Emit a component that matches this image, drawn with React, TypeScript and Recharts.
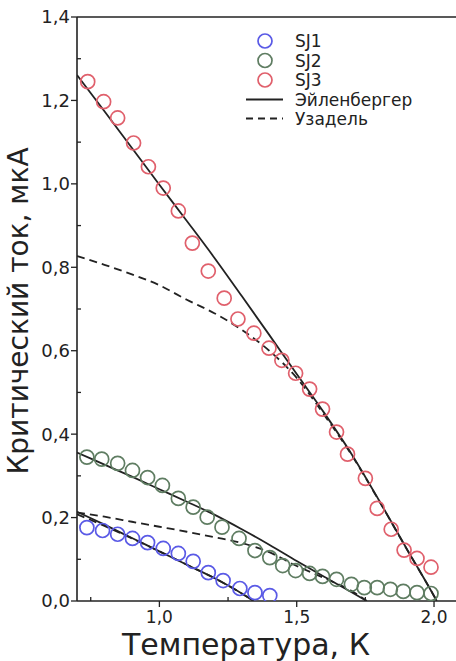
import React from "react";
import { ComposedChart, Line, Scatter, XAxis, YAxis, ReferenceLine } from "recharts";

// ---- measured points ----
const SJ1_T = [0.736, 0.793, 0.848, 0.902, 0.957, 1.014, 1.069, 1.123, 1.178, 1.232, 1.293, 1.348, 1.402];
const SJ1_I = [0.176, 0.169, 0.160, 0.150, 0.140, 0.126, 0.114, 0.095, 0.068, 0.049, 0.030, 0.020, 0.013];

const SJ2_T = [0.736, 0.790, 0.848, 0.902, 0.957, 1.011, 1.069, 1.123, 1.174, 1.228, 1.290, 1.348, 1.402, 1.449, 1.496, 1.547, 1.594, 1.645, 1.699, 1.746, 1.793, 1.841, 1.888, 1.938, 1.989];
const SJ2_I = [0.345, 0.340, 0.330, 0.313, 0.296, 0.277, 0.246, 0.225, 0.201, 0.177, 0.150, 0.121, 0.104, 0.085, 0.073, 0.066, 0.059, 0.052, 0.040, 0.032, 0.032, 0.028, 0.023, 0.020, 0.018];

const SJ3_T = [0.739, 0.797, 0.848, 0.906, 0.960, 1.014, 1.069, 1.120, 1.178, 1.236, 1.286, 1.344, 1.399, 1.446, 1.496, 1.547, 1.594, 1.645, 1.685, 1.750, 1.793, 1.844, 1.891, 1.938, 1.989];
const SJ3_I = [1.245, 1.197, 1.158, 1.098, 1.041, 0.990, 0.935, 0.858, 0.791, 0.726, 0.676, 0.642, 0.606, 0.577, 0.546, 0.508, 0.460, 0.405, 0.352, 0.294, 0.222, 0.172, 0.122, 0.102, 0.081];

// ---- theory curves ----
const CURVE3_T = [0.7, 0.8, 0.9, 1.0, 1.1, 1.2, 1.3, 1.4, 1.5, 1.6, 1.7, 1.8, 1.9, 2.0, 2.01];
const EIL3_I = [1.261, 1.174, 1.086, 0.998, 0.911, 0.823, 0.731, 0.638, 0.544, 0.451, 0.352, 0.241, 0.126, 0.012, 0];
const USA3_I = [0.827, 0.806, 0.783, 0.757, 0.722, 0.690, 0.650, 0.600, 0.535, 0.446, 0.350, 0.240, 0.125, 0.012, 0];

const CURVE2_T = [0.7, 0.8, 0.9, 1.0, 1.1, 1.2, 1.3, 1.4, 1.5, 1.6, 1.7, 1.755];
const EIL2_I = [0.356, 0.327, 0.298, 0.268, 0.238, 0.207, 0.172, 0.135, 0.096, 0.058, 0.021, 0];
const USA2_I = [0.212, 0.202, 0.190, 0.178, 0.166, 0.153, 0.139, 0.117, 0.084, 0.055, 0.024, 0];

const CURVE1_T = [0.7, 0.8, 0.9, 1.0, 1.1, 1.2, 1.3, 1.343];
const EIL1_I = [0.214, 0.183, 0.151, 0.119, 0.087, 0.055, 0.018, 0];
const USA1_I = [0.208, 0.180, 0.150, 0.119, 0.087, 0.055, 0.018, 0];

// ---- axes ----
const X_TICKS = [0.75, 1.0, 1.25, 1.5, 1.75, 2.0];
const X_MAJOR = [1.0, 1.5, 2.0];
const Y_TICKS = [0, 0.1, 0.2, 0.3, 0.4, 0.5, 0.6, 0.7, 0.8, 0.9, 1.0, 1.1, 1.2, 1.3, 1.4];
const Y_MAJOR = [0, 0.2, 0.4, 0.6, 0.8, 1.0, 1.2, 1.4];

const X_TITLE = "Температура, К";
const Y_TITLE = "Критический ток, мкА";
const SERIES_NAMES = ["SJ1", "SJ2", "SJ3"];
const SERIES_COLORS = ["#5a5ae6", "#5f7d62", "#e0606c"];
const CURVE_NAMES = ["Эйленбергер", "Узадель"];

const zip = (xs: number[], ys: number[]) => xs.map((x, i) => ({ x, y: ys[i] }));

const FONT = "'DejaVu Sans', Verdana, sans-serif";
const INK = "#222";
const fmt = (v: number) => v.toFixed(1).replace(".", ",");

const YTick = (props: any) => {
  const { x, y, payload } = props;
  const v = payload.value;
  const major = Y_MAJOR.some((m) => Math.abs(m - v) < 1e-6);
  return (
    <g>
      <line x1={x} x2={major ? x - 6 : x + 4} y1={y} y2={y} stroke={INK} strokeWidth={1.3} />
      {major && (
        <text x={x - 7} y={y} dy="0.36em" textAnchor="end" fontFamily={FONT} fontSize={18} fill={INK}>
          {fmt(v)}
        </text>
      )}
    </g>
  );
};

const XTick = (props: any) => {
  const { x, y, payload } = props;
  const v = payload.value;
  const major = X_MAJOR.some((m) => Math.abs(m - v) < 1e-6);
  return (
    <g>
      <line x1={x} x2={x} y1={y} y2={major ? y + 6 : y - 4} stroke={INK} strokeWidth={1.3} />
      {major && (
        <text x={x} y={y + 22} textAnchor="middle" fontFamily={FONT} fontSize={17} fill={INK}>
          {fmt(v)}
        </text>
      )}
    </g>
  );
};

const Ring = (color: string) => (props: any) => {
  const { cx, cy } = props;
  if (cx == null || cy == null) return <g />;
  return <circle cx={cx} cy={cy} r={7} fill="none" stroke={color} strokeWidth={1.7} />;
};

export default function App() {
  const lineProps = { type: "monotone" as const, dataKey: "y", stroke: INK, strokeWidth: 1.8, dot: false, isAnimationActive: false, activeDot: false as any };
  const dash = "8 5";
  const legendY = [41, 60.5, 80, 99.5, 118.5];
  return (
    <div style={{ position: "absolute", left: 0, top: 0, width: 456, height: 661, background: "#fff" }}>
      <ComposedChart width={456} height={661} margin={{ top: 17, right: 0, bottom: 0, left: 0 }}>
        <XAxis
          dataKey="x"
          type="number"
          domain={[0.7, 2.08]}
          ticks={X_TICKS}
          interval={0}
          allowDataOverflow
          height={60}
          tickSize={0}
          tickMargin={0}
          tickLine={false}
          tick={XTick}
          axisLine={{ stroke: INK, strokeWidth: 1.6 }}
        />
        <YAxis
          type="number"
          domain={[0, 1.4]}
          ticks={Y_TICKS}
          interval={0}
          allowDataOverflow
          width={77}
          tickSize={0}
          tickMargin={0}
          tickLine={false}
          tick={YTick}
          axisLine={{ stroke: INK, strokeWidth: 1.6 }}
        />
        <ReferenceLine y={1.4} stroke={INK} strokeWidth={1.6} ifOverflow="visible" />

        <Line {...lineProps} data={zip(CURVE3_T, USA3_I)} strokeDasharray={dash} />
        <Line {...lineProps} data={zip(CURVE2_T, USA2_I)} strokeDasharray={dash} />
        <Line {...lineProps} data={zip(CURVE1_T, USA1_I)} strokeDasharray={dash} />

        <Scatter data={zip(SJ1_T, SJ1_I)} dataKey="y" shape={Ring(SERIES_COLORS[0])} isAnimationActive={false} />
        <Scatter data={zip(SJ2_T, SJ2_I)} dataKey="y" shape={Ring(SERIES_COLORS[1])} isAnimationActive={false} />
        <Scatter data={zip(SJ3_T, SJ3_I)} dataKey="y" shape={Ring(SERIES_COLORS[2])} isAnimationActive={false} />

        <Line {...lineProps} data={zip(CURVE3_T, EIL3_I)} />
        <Line {...lineProps} data={zip(CURVE2_T, EIL2_I)} />
        <Line {...lineProps} data={zip(CURVE1_T, EIL1_I)} />
      </ComposedChart>

      <svg width={456} height={661} style={{ position: "absolute", left: 0, top: 0, pointerEvents: "none" }}>
        <text x={246} y={655} textAnchor="middle" fontFamily={FONT} fontSize={30} fill={INK}>
          {X_TITLE}
        </text>
        <text x={28} y={311} textAnchor="middle" fontFamily={FONT} fontSize={28} fill={INK} transform="rotate(-90 28 311)">
          {Y_TITLE}
        </text>
        {SERIES_NAMES.map((n, i) => (
          <g key={n}>
            <circle cx={265} cy={legendY[i]} r={7} fill="none" stroke={SERIES_COLORS[i]} strokeWidth={1.7} />
            <text x={295} y={legendY[i]} dy="0.36em" fontFamily={FONT} fontSize={17} fill={INK}>
              {n}
            </text>
          </g>
        ))}
        {CURVE_NAMES.map((n, i) => (
          <g key={n}>
            <line x1={246} x2={283} y1={legendY[3 + i]} y2={legendY[3 + i]} stroke={INK} strokeWidth={1.8} strokeDasharray={i === 1 ? "7 5" : undefined} />
            <text x={295} y={legendY[3 + i]} dy="0.36em" fontFamily={FONT} fontSize={17} fill={INK}>
              {n}
            </text>
          </g>
        ))}
      </svg>
    </div>
  );
}
